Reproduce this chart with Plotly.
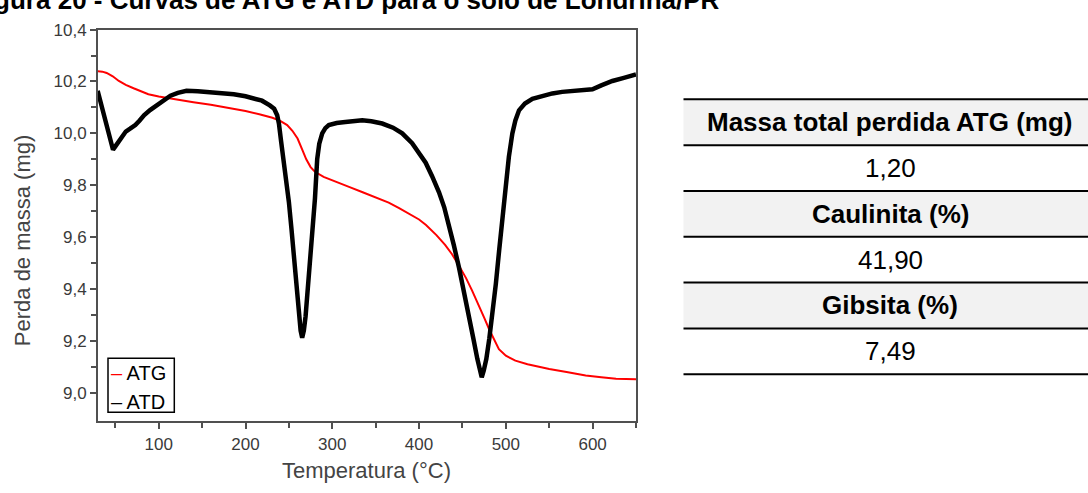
import plotly.graph_objects as go

# ---------------- data ----------------
atg_temp = [29.6, 35, 40, 47, 54, 62, 71, 80, 88, 100, 110, 125, 140, 160, 180, 200, 217, 231,
            240, 248, 254, 260, 265, 270, 275, 280, 290, 300, 320, 335, 350, 365, 377, 392, 400,
            408, 420, 430, 438, 446, 454, 461, 468, 475, 481, 487, 492, 500, 511, 525, 540, 550,
            570, 592, 610, 627, 650]
atg_mass = [10.240, 10.238, 10.233, 10.220, 10.202, 10.187, 10.174, 10.162, 10.151, 10.142,
            10.136, 10.128, 10.120, 10.110, 10.099, 10.086, 10.073, 10.060, 10.048, 10.032,
            10.010, 9.980, 9.940, 9.900, 9.870, 9.852, 9.832, 9.818, 9.793, 9.773, 9.753, 9.733,
            9.712, 9.685, 9.668, 9.647, 9.608, 9.570, 9.534, 9.490, 9.443, 9.395, 9.345, 9.290,
            9.243, 9.200, 9.168, 9.143, 9.124, 9.110, 9.099, 9.092, 9.080, 9.067, 9.060, 9.054,
            9.052]

atd_temp = [29.6, 34, 38.5, 43, 47.3, 50, 54, 58, 62, 67, 73, 78, 83, 90, 98, 106, 113.5, 122,
            132, 145, 160, 175, 186.5, 200, 210, 219, 228, 233, 236.5, 238.5, 241, 244, 247, 250,
            253, 255.7, 258.5, 261.5, 263.5, 265.3, 267.2, 269.2, 272, 275, 277.5, 280, 282.6,
            285, 288.4, 292, 296, 305, 315, 325, 334.5, 345, 357.5, 370, 380.6, 392, 400, 407.6,
            415, 423, 429, 434.5, 440, 446, 452, 457.6, 462.5, 467.2, 470, 472.2, 474.5, 477.5,
            481, 484.5, 488.5, 492.2, 496, 499.9, 503.5, 507.5, 511, 515.2, 522, 530.6, 542,
            553.6, 565, 576.7, 590, 599.8, 610, 622.8, 635, 650]
atd_signal = [10.164, 10.110, 10.051, 9.995, 9.937, 9.950, 9.969, 9.990, 10.007, 10.018, 10.032,
              10.050, 10.070, 10.090, 10.108, 10.128, 10.145, 10.156, 10.164, 10.162, 10.158,
              10.155, 10.151, 10.143, 10.133, 10.126, 10.108, 10.095, 10.070, 10.038, 9.970,
              9.900, 9.820, 9.735, 9.630, 9.521, 9.410, 9.294, 9.240, 9.212, 9.240, 9.294, 9.410,
              9.521, 9.640, 9.748, 9.900, 9.960, 10.000, 10.020, 10.032, 10.040, 10.044, 10.049,
              10.051, 10.047, 10.038, 10.022, 10.000, 9.962, 9.925, 9.887, 9.835, 9.773, 9.715,
              9.647, 9.570, 9.483, 9.390, 9.294, 9.210, 9.130, 9.085, 9.060, 9.085, 9.130, 9.210,
              9.294, 9.420, 9.546, 9.680, 9.811, 9.910, 10.000, 10.050, 10.089, 10.115, 10.133,
              10.145, 10.154, 10.160, 10.164, 10.168, 10.170, 10.185, 10.202, 10.213, 10.227]

series_names = ["ATG", "ATD"]
x_ticks = [100, 200, 300, 400, 500, 600]
y_ticks = [9.0, 9.2, 9.4, 9.6, 9.8, 10.0, 10.2, 10.4]

table_headers = ["Massa total perdida ATG (mg)", "Caulinita (%)", "Gibsita (%)"]
table_values = ["1,20", "41,90", "7,49"]

title_text = "Figura 20 - Curvas de ATG e ATD para o solo de Londrina/PR"
x_title = "Temperatura (°C)"
y_title = "Perda de massa (mg)"

# ---------------- layout helpers ----------------
W, H = 1088, 493
FONT = "Liberation Sans, Arial, sans-serif"


def px(x):
    return x / W


def py(y):
    return 1 - y / H


fig = go.Figure()
fig.add_trace(go.Scatter(x=atg_temp, y=atg_mass, mode="lines", name=series_names[0],
                         line=dict(color="#ff0000", width=2)))
fig.add_trace(go.Scatter(x=atd_temp, y=atd_signal, mode="lines", name=series_names[1],
                         line=dict(color="#000000", width=4.5)))

axis_color = "#505050"
tick_font = dict(family=FONT, size=17, color="#3a3a3a")

fig.update_layout(
    width=W, height=H,
    margin=dict(l=0, r=0, t=0, b=0),
    paper_bgcolor="white", plot_bgcolor="white",
    showlegend=False,
    separators=", ",
    xaxis=dict(domain=[px(98), px(636)], range=[30, 650], tickvals=x_ticks,
               showgrid=False, zeroline=False, showline=True, linecolor=axis_color,
               linewidth=2, mirror=True, ticks="outside", ticklen=6, tickwidth=1.5,
               tickcolor=axis_color, tickfont=tick_font,
               minor=dict(tickvals=[50, 150, 250, 350, 450, 550, 650], ticks="outside",
                          ticklen=5, tickwidth=1.5, tickcolor=axis_color, showgrid=False)),
    yaxis=dict(domain=[py(420), py(21)], range=[8.89, 10.4], tickvals=y_ticks,
               tickformat=".1f",
               showgrid=False, zeroline=False, showline=True, linecolor=axis_color,
               linewidth=2, mirror=True, ticks="outside", ticklen=6, tickwidth=1.5,
               tickcolor=axis_color, tickfont=tick_font,
               minor=dict(tickvals=[9.1, 9.3, 9.5, 9.7, 9.9, 10.1, 10.3], ticks="outside",
                          ticklen=5, tickwidth=1.5, tickcolor=axis_color, showgrid=False)),
)

annotations = []
shapes = []

# title (the reference shows it cropped at the top edge of the page)
annotations.append(dict(xref="paper", yref="paper", x=px(722), y=py(8), xanchor="right",
                        yanchor="bottom", showarrow=False, text="<b>%s</b>" % title_text,
                        font=dict(family=FONT, size=26, color="#000000")))

# axis titles
annotations.append(dict(xref="paper", yref="paper", x=px(366), y=py(470), xanchor="center",
                        yanchor="middle", showarrow=False, text=x_title,
                        font=dict(family=FONT, size=22, color="#444444")))
annotations.append(dict(xref="paper", yref="paper", x=px(22.5), y=py(236), xanchor="center",
                        yanchor="middle", showarrow=False, text=y_title, textangle=-90,
                        font=dict(family=FONT, size=22, color="#444444")))

# legend box
shapes.append(dict(type="rect", xref="paper", yref="paper", x0=px(108), x1=px(174.3),
                   y0=py(410.7), y1=py(355.7), line=dict(color="#000000", width=1.5),
                   fillcolor="white", layer="above"))
leg_colors = ["#ff0000", "#000000"]
for i, name in enumerate(series_names):
    annotations.append(dict(xref="paper", yref="paper", x=px(109), y=py(371 + 29 * i),
                            xanchor="left", yanchor="middle", showarrow=False,
                            text="<span style='color:%s'>–</span> %s" % (leg_colors[i], name),
                            font=dict(family=FONT, size=20, color="#000000")))

# table
top = 92.0
row_h = (372.0 - 92.0) / 6
tx0, tx1 = 683.5, 1088
center_x = 890
for i, (hdr, val) in enumerate(zip(table_headers, table_values)):
    y0 = top + 2 * i * row_h
    shapes.append(dict(type="rect", xref="paper", yref="paper", x0=px(tx0), x1=px(tx1),
                       y0=py(y0 + row_h), y1=py(y0), fillcolor="#f2f2f2", line=dict(width=0),
                       layer="below"))
    annotations.append(dict(xref="paper", yref="paper", x=px(center_x), y=py(y0 + row_h / 2),
                            xanchor="center", yanchor="middle", showarrow=False,
                            text="<b>%s</b>" % hdr,
                            font=dict(family=FONT, size=26, color="#000000")))
    annotations.append(dict(xref="paper", yref="paper", x=px(center_x), y=py(y0 + 1.5 * row_h),
                            xanchor="center", yanchor="middle", showarrow=False,
                            text=val, font=dict(family=FONT, size=26, color="#000000")))
for k in range(7):
    yy = top + k * row_h
    shapes.append(dict(type="line", xref="paper", yref="paper", x0=px(tx0), x1=px(tx1),
                       y0=py(yy), y1=py(yy), line=dict(color="#000000", width=2)))

fig.update_layout(annotations=annotations, shapes=shapes)
fig.write_html("out.html", config={"displayModeBar": False},
               post_script="document.body.style.margin='0';document.body.style.overflow='hidden';")
